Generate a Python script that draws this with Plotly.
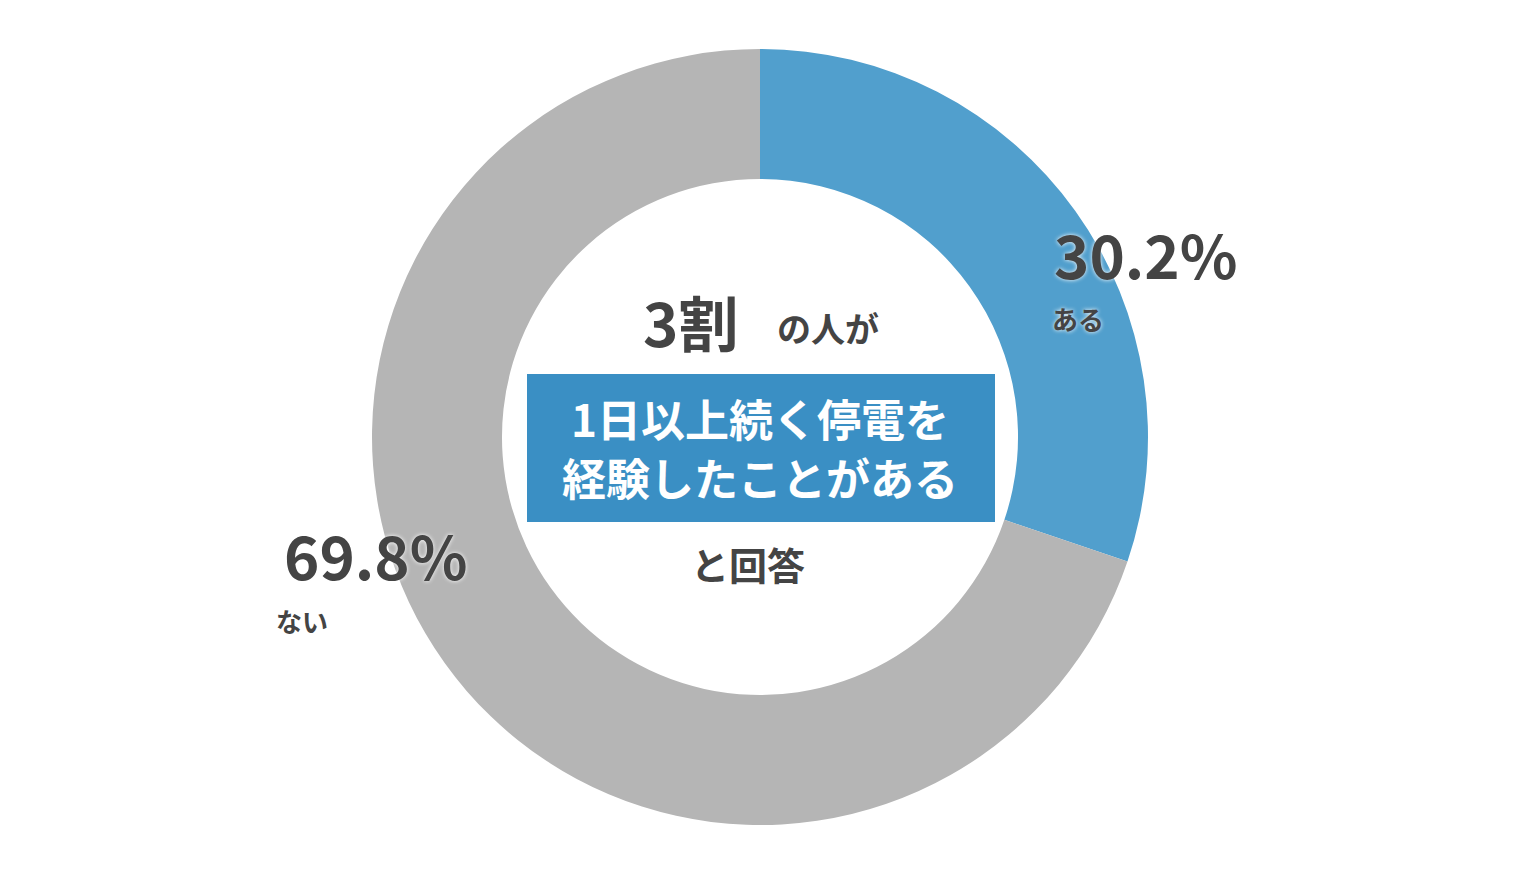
import plotly.graph_objects as go

labels = ["ある", "ない"]
values = [30.2, 69.8]
colors = ["#519fcd", "#b5b5b5"]
pct_text = ["30.2%", "69.8%"]

W, H = 1520, 875
OFF = 8  # page margin offset
def px(x): return (x - OFF) / W
def py(y): return 1 - (y - OFF) / H

fig = go.Figure(go.Pie(
    labels=labels, values=values, hole=0.665, sort=False, direction="clockwise",
    rotation=0, marker=dict(colors=colors), textinfo="none", hoverinfo="label+percent",
    domain=dict(x=[px(372), px(1148)], y=[py(825), py(49)]), showlegend=False,
))
F = "Noto Sans CJK JP"
dark = "#444444"
sh = "white 0px 0px 4px"
def ann(x, y, text, size, color=dark, shadow=None):
    fig.add_annotation(x=px(x), y=py(y), xref="paper", yref="paper", text=text, showarrow=False,
                       xanchor="center", yanchor="middle",
                       font=dict(family=F, size=size, color=color, weight="bold", shadow=shadow))

ann(1145, 252, pct_text[0], 60, shadow=sh)
ann(1078, 318, labels[0], 26, shadow=sh)
ann(375, 553, pct_text[1], 60, shadow=sh)
ann(302, 620, labels[1], 26, shadow=sh)
ann(690, 320, "3割", 60)
ann(828, 328, "の人が", 34)
fig.add_shape(type="rect", xref="paper", yref="paper", x0=px(527), x1=px(995), y0=py(522), y1=py(374),
              fillcolor="#3a8fc4", line_width=0)
ann(760, 418, "1日以上続く停電を", 44, color="white")
ann(760, 477, "経験したことがある", 44, color="white")
ann(748, 563, "と回答", 38)

fig.update_layout(width=W, height=H, margin=dict(l=0, r=0, t=0, b=0),
                  paper_bgcolor="white", plot_bgcolor="white")
fig.write_html("out.html")
